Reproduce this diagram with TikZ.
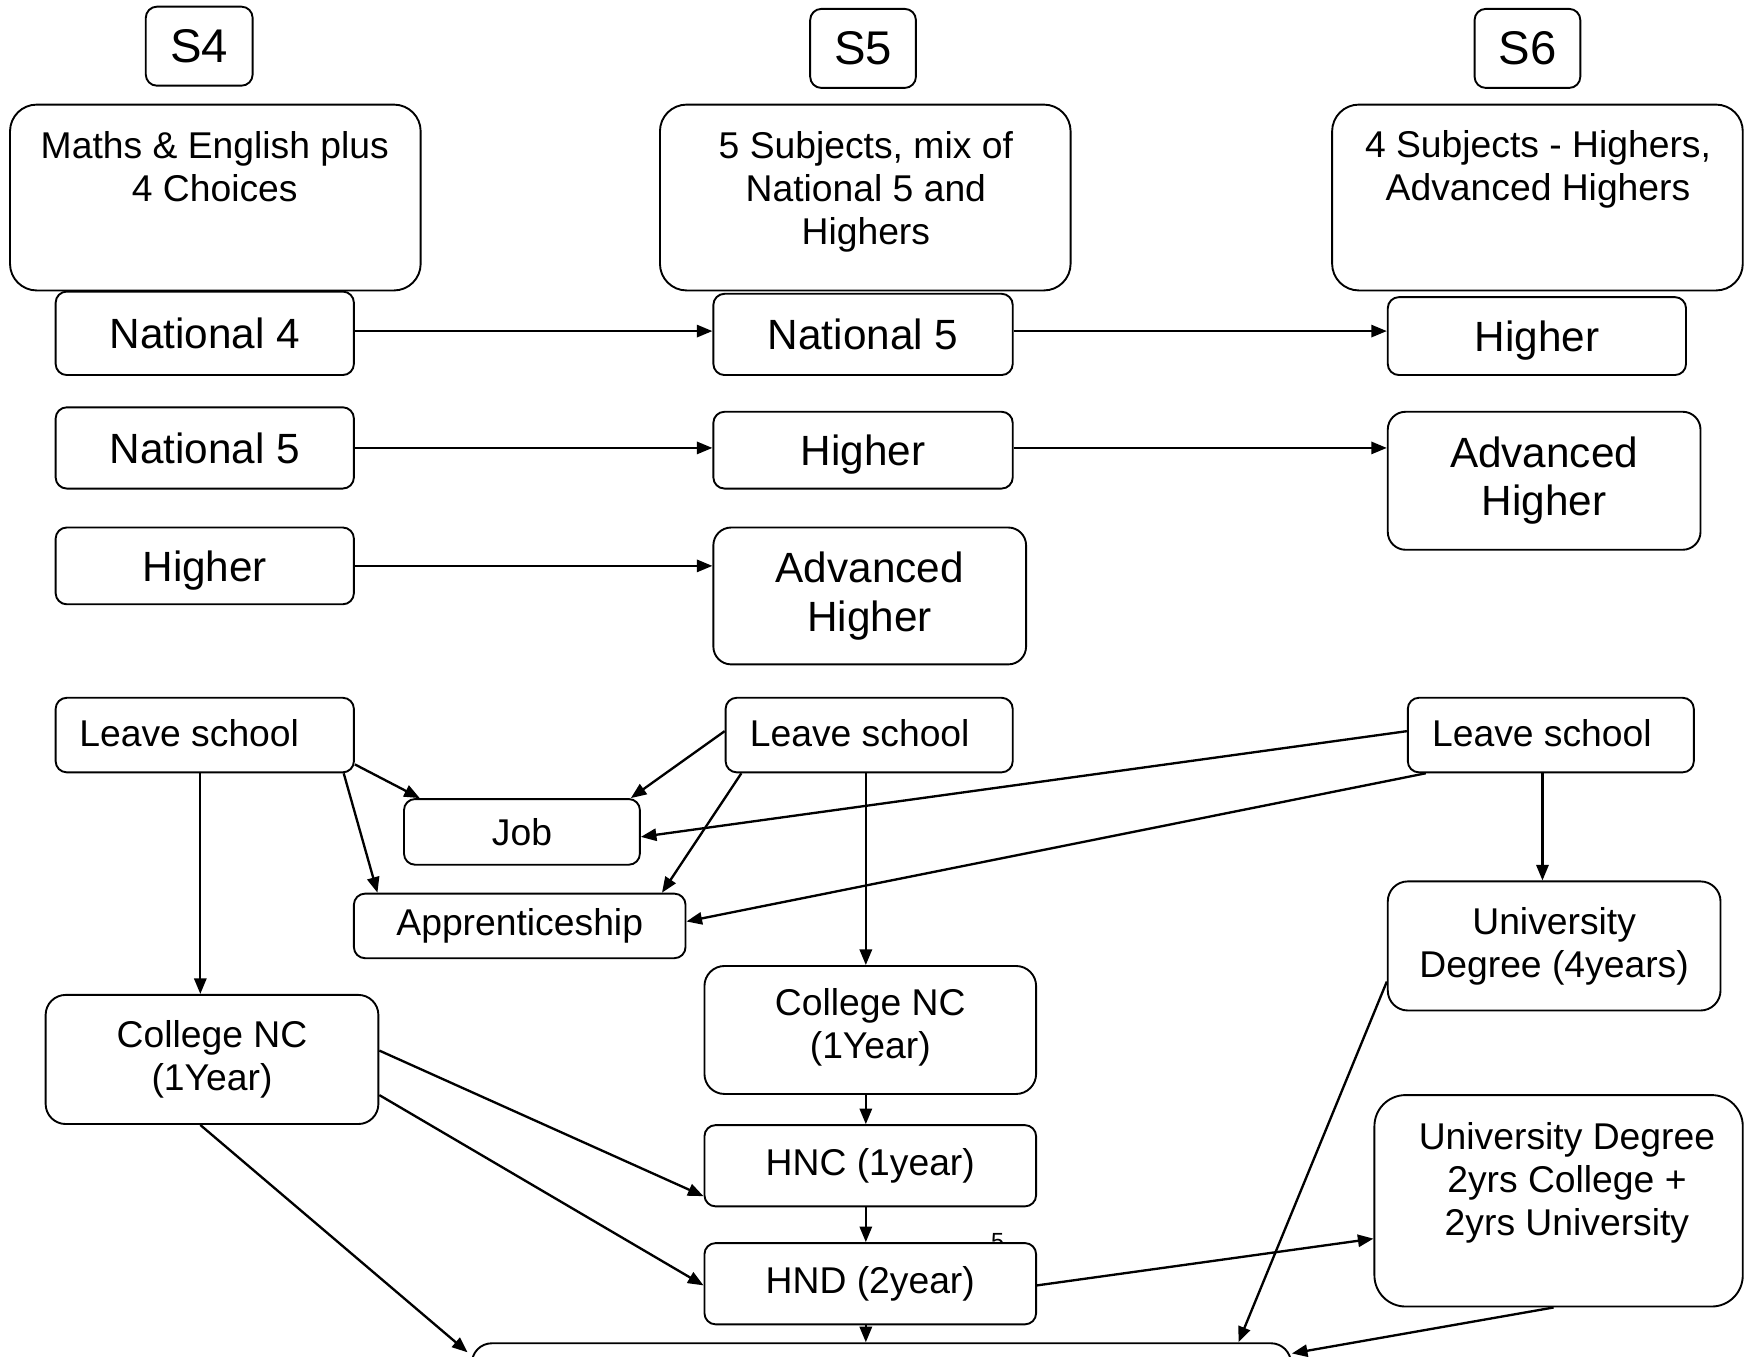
\documentclass[tikz,border=0pt]{standalone}
\usepackage{fontspec}
\setmainfont{Liberation Sans}
\usetikzlibrary{arrows.meta,calc}
\begin{document}
\begin{tikzpicture}[x=0.5pt,y=-0.5pt,
  box/.style={draw, line width=0.85pt, rounded corners=5pt, fill=white, inner sep=0pt, align=center},
  small/.style={font=\fontsize{16.75}{19.3}\selectfont},
  big/.style={font=\fontsize{19}{21.8}\selectfont},
  one/.style={text height=13.7pt, text depth=0pt},
  huge/.style={font=\fontsize{21.25}{24}\selectfont},
  txt/.style={inner sep=0pt, align=center},
  arr/.style={-{Triangle[length=7pt,width=5.5pt]}, line width=1.05pt}]
\useasboundingbox (0,0) rectangle (1568,1219);
\clip (0,0) rectangle (1568,1219);
\fill[white] (0,0) rectangle (1568,1219);

% stray small text partly hidden
\node[txt, font=\fontsize{10.5}{12}\selectfont] (five) at (896.5,1115.5) {5};

% year headers
\node[box, huge, minimum width=48pt, minimum height=35.5pt] (s4) at (179,41.5) {S4};
\node[box, huge, minimum width=47.5pt, minimum height=35.5pt] (s5) at (775.5,43.5) {S5};
\node[box, huge, minimum width=47.5pt, minimum height=35.5pt] (s6) at (1372.5,43.5) {S6};

% description boxes
\node[box, rounded corners=12pt, minimum width=184.5pt, minimum height=83.5pt] (d4) at (193.5,177.5) {};
\node[box, rounded corners=12pt, minimum width=184.5pt, minimum height=83.5pt] (d5) at (777.5,177.5) {};
\node[box, rounded corners=12pt, minimum width=184.5pt, minimum height=83.5pt] (d6) at (1381.5,177.5) {};
\node[txt, small] (d4t) at (193,150) {Maths \& English plus\\4 Choices};
\node[txt, small] (d5t) at (778,172) {5 Subjects, mix of\\National 5 and\\Highers};
\node[txt, small] (d6t) at (1382,152.5) {4 Subjects - Highers,\\Advanced Highers};

% course rows
\node[box, big, one, minimum width=134pt, minimum height=37.5pt] (n4) at (184,299.5) {National 4};
\node[box, big, one, minimum width=134.5pt, minimum height=36.5pt] (n5b) at (775.5,300.5) {National 5};
\node[box, big, one, minimum width=134pt, minimum height=35pt] (h6) at (1381,302) {Higher};
\node[box, big, one, minimum width=134pt, minimum height=36.5pt] (n5a) at (184,402.5) {National 5};
\node[box, big, one, minimum width=134.5pt, minimum height=34.5pt] (h5) at (775.5,404.5) {Higher};
\node[box, big, rounded corners=8pt, minimum width=140.5pt, minimum height=62pt] (ah6) at (1387.5,432) {Advanced\\Higher};
\node[box, big, one, minimum width=134pt, minimum height=34.5pt] (h4) at (184,508.5) {Higher};
\node[box, big, rounded corners=8pt, minimum width=140.5pt, minimum height=61.5pt] (ah5) at (781.5,535.5) {Advanced\\Higher};

% leave school
\node[box, minimum width=134pt, minimum height=33.5pt] (ls4) at (184,660.5) {};
\node[box, minimum width=129pt, minimum height=33.5pt] (ls5) at (781,660.5) {};
\node[box, minimum width=128.5pt, minimum height=33.5pt] (ls6) at (1393.5,660.5) {};
\node[txt, small] (ls4t) at (170,659) {Leave school};
\node[txt, small] (ls5t) at (772.5,659) {Leave school};
\node[txt, small] (ls6t) at (1385.5,659) {Leave school};

% destinations
\node[box, small, minimum width=106pt, minimum height=29.5pt] (job) at (469,747.5) {Job};
\node[box, small, minimum width=149pt, minimum height=29pt] (app) at (467,832) {Apprenticeship};
\node[box, small, rounded corners=9pt, minimum width=149.5pt, minimum height=58pt] (cn4) at (190.5,952) {College NC\\(1Year)};
\node[box, rounded corners=9pt, minimum width=149pt, minimum height=57.5pt] (cn5) at (782,925.5) {};
\node[txt, small] (cn5t) at (782,923) {College NC\\(1Year)};
\node[box, small, rounded corners=9pt, minimum width=149.5pt, minimum height=58pt] (u4) at (1396.5,850) {University\\Degree (4years)};
\node[box, small, minimum width=149pt, minimum height=36.5pt] (hnc) at (782,1047.5) {HNC (1year)};
\node[box, small, minimum width=149pt, minimum height=36.5pt] (hnd) at (782,1153.5) {HND (2year)};
\node[box, rounded corners=14pt, minimum width=165.5pt, minimum height=95pt] (u2) at (1400.5,1079) {};
\node[txt, small] (u2t) at (1408,1063) {University Degree\\2yrs College +\\2yrs University};
\node[box, rounded corners=9pt, minimum width=368pt, minimum height=46.5pt] (bot) at (792,1253.5) {};

% horizontal progressions
\draw[arr] ($(n4.east)+(0,-2)$) -- ($(n4.east -| n5b.west)+(0,-2)$);
\draw[arr] ($(n5b.east)+(0,-3)$) -- ($(n5b.east -| h6.west)+(0,-3)$);
\draw[arr] (n5a.east) -- (n5a.east -| h5.west);
\draw[arr] ($(h5.east)+(0,-2)$) -- ($(h5.east -| ah6.west)+(0,-2)$);
\draw[arr] (h4.east) -- (h4.east -| ah5.west);

% leaving S4
\draw[arr] ($(ls4.south east)+(0,-8)$) -- ($(job.north west)+(15,0)$);
\draw[arr] ($(ls4.south east)+(-10,0)$) -- ($(app.north west)+(22,0)$);
\coordinate (c4) at ($(ls4.south)+(-4,0)$);
\draw[arr] (c4) -- (c4 |- cn4.north);

% leaving S5
\draw[arr] ($(ls5.west)+(0,-3.5)$) -- ($(job.north east)+(-9,0)$);
\draw[arr] ($(ls5.south west)+(15,0)$) -- ($(app.north east)+(-22,0)$);
\coordinate (c5) at ($(ls5.south)+(-3,0)$);
\draw[arr] (c5) -- (c5 |- cn5.north);

% leaving S6
\draw[arr] ($(ls6.west)+(0,-3.5)$) -- ($(job.east)+(0,4.5)$);
\draw[arr] ($(ls6.south west)+(17,0)$) -- ($(app.east)+(0,-4)$);
\coordinate (c6) at ($(ls6.south)+(-7.5,0)$);
\draw[arr] (c6) -- (c6 |- u4.north);

% college routes
\draw[arr] ($(cn4.east)+(0,-8)$) -- ($(hnc.south west)+(0,-10)$);
\draw[arr] ($(cn4.east)+(0,32)$) -- ($(hnd.west)+(0,1.5)$);
\draw[arr] ($(cn4.south)+(-10.5,0)$) -- ($(bot.north west)+(-3,9)$);
\coordinate (c7) at ($(cn5.south)+(-4,0)$);
\draw[arr] (c7) -- (c7 |- hnc.north);
\coordinate (c8) at ($(hnc.south)+(-4,0)$);
\draw[arr] (c8) -- (c8 |- hnd.north);
\coordinate (c9) at ($(hnd.south)+(-4,0)$);
\draw[arr] (c9) -- (c9 |- bot.north);
\draw[arr] ($(hnd.east)+(0,1.5)$) -- ($(u2.west)+(0,34)$);
\draw[arr] ($(u4.west)+(0,32)$) -- ($(bot.north east)+(-48,0)$);
\draw[arr] ($(u2.south)+(-4.5,0)$) -- ($(bot.north east)+(0,10)$);
\end{tikzpicture}
\end{document}
